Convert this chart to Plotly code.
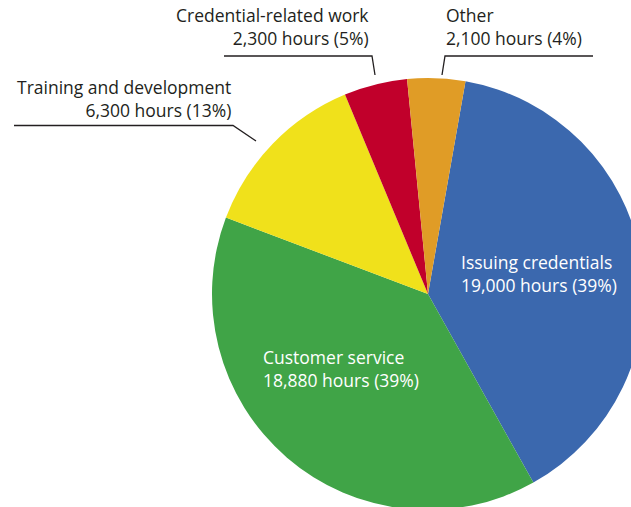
import plotly.graph_objects as go

# Staff hours by activity
categories = ["Issuing credentials", "Customer service", "Training and development",
              "Credential-related work", "Other"]
hours = [19000, 18880, 6300, 2300, 2100]
percents = [39, 39, 13, 5, 4]
colors = ["#3b68ae", "#40a447", "#f0e11b", "#c1002b", "#e09c26"]

W, H = 660, 530           # canvas larger than the view so the pie runs off the edge
CX, CY, R = 428, 294, 216  # pie centre and radius in pixels


def px(x):
    return x / W


def py(y):
    return 1 - y / H


fig = go.Figure(go.Pie(
    labels=categories,
    values=hours,
    marker=dict(colors=colors, line=dict(width=0)),
    sort=False,
    direction="clockwise",
    rotation=10,
    textinfo="none",
    hoverinfo="skip",
    showlegend=False,
    domain=dict(x=[px(CX - R), px(CX + R)], y=[py(CY + R), py(CY - R)]),
))

labels = [f"{c}<br>{h:,} hours ({p}%)" for c, h, p in zip(categories, hours, percents)]

# label placement: (x, y, xanchor, align, colour)
placement = [
    (459, 273, "left", "left", "white"),
    (261, 368.5, "left", "left", "white"),
    (233, 98.5, "right", "right", "#231f20"),
    (371, 26.5, "right", "right", "#231f20"),
    (444, 26.5, "left", "left", "#231f20"),
]

for text, (x, y, xa, al, col) in zip(labels, placement):
    fig.add_annotation(
        x=px(x), y=py(y), xref="paper", yref="paper",
        text=text, showarrow=False, xanchor=xa, yanchor="middle", align=al,
        font=dict(family="Open Sans", size=17.5, color=col),
    )

# leader lines
leaders = [
    [(14, 125.5), (233, 125.5), (256, 141)],
    [(224, 56), (372, 56), (375, 75)],
    [(593, 56), (445, 56), (442, 75)],
]
for pts in leaders:
    path = "M " + " L ".join(f"{px(x)},{py(y)}" for x, y in pts)
    fig.add_shape(type="path", path=path, xref="paper", yref="paper",
                  line=dict(color="#231f20", width=1.3))

fig.update_layout(
    width=W, height=H,
    margin=dict(l=0, r=0, t=0, b=0),
    paper_bgcolor="white",
    plot_bgcolor="white",
)

fig.write_html(
    "out.html",
    post_script="document.documentElement.style.overflow='hidden';"
                "document.body.style.overflow='hidden';document.body.style.margin='0';",
)
